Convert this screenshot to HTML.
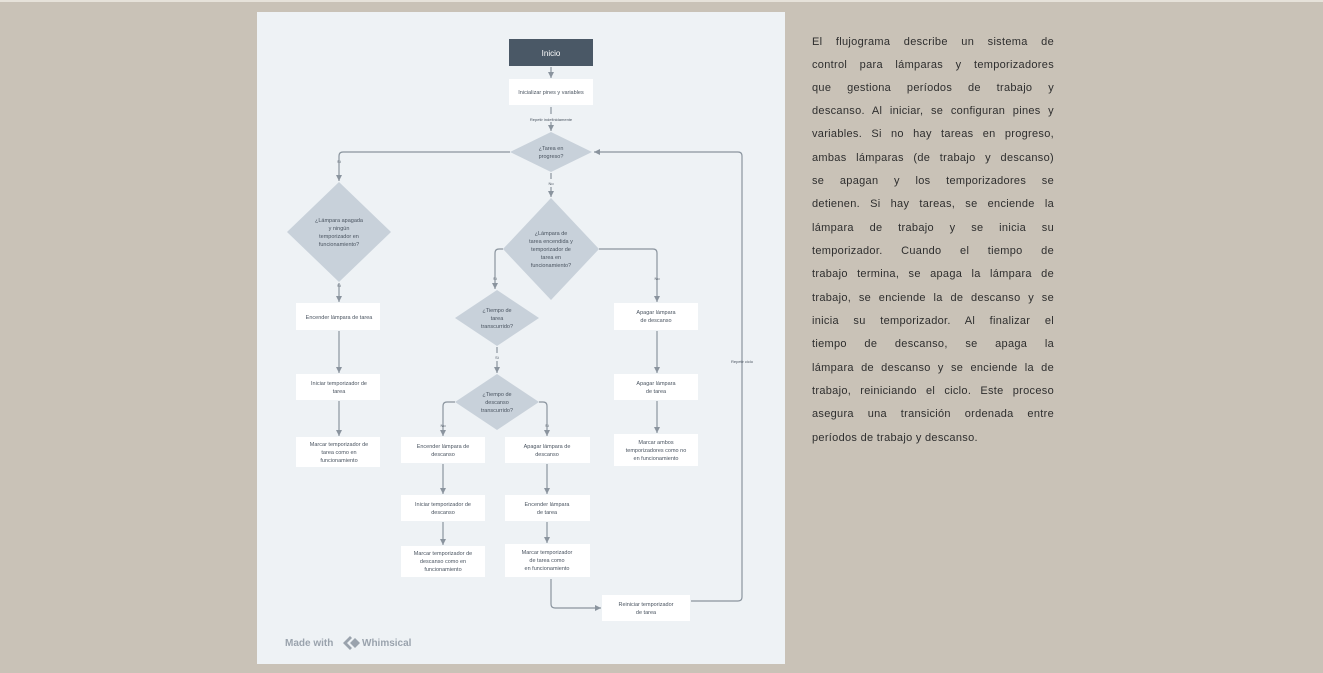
<!DOCTYPE html>
<html><head><meta charset="utf-8"><style>
body{margin:0;width:1323px;height:673px;background:#c9c2b7;position:relative;overflow:hidden;font-family:"Liberation Sans",sans-serif}
#top{position:absolute;left:0;top:0;width:1323px;height:2px;background:#e6e2da}
#panel{position:absolute;left:257px;top:12px;width:528px;height:652px;background:#eef2f5}
svg{position:absolute;left:0;top:0}
.t{position:absolute;left:812px;width:242px;font-size:11px;letter-spacing:0.3px;color:#2e2e2e;text-align:justify;text-align-last:justify;white-space:nowrap;line-height:14px}
.t.l{text-align-last:left}
</style></head><body>
<div id="top"></div>
<div id="panel"></div>
<svg width="1323" height="673" viewBox="0 0 1323 673" font-family="Liberation Sans, sans-serif">
<defs><marker id="a" markerWidth="6" markerHeight="6" refX="5" refY="3" orient="auto"><path d="M0,0.5 L5,3 L0,5.5z" fill="#8a949e"/></marker></defs>
<g stroke="#8a949e" stroke-width="1.2" fill="none" marker-end="url(#a)">
<path d="M551,67 V78"/>
<path d="M551,107 V114 M551,122 V131"/>
<path d="M510,152 H343 Q339,152 339,156 V181"/>
<path d="M339,283 V302"/>
<path d="M339,331 V373"/>
<path d="M339,401 V436"/>
<path d="M551,173 V179 M551,187 V197"/>
<path d="M503,249 H499 Q495,249 495,253 V289"/>
<path d="M599,249 H653 Q657,249 657,253 V302"/>
<path d="M657,331 V373"/>
<path d="M657,401 V433"/>
<path d="M497,347 V353 M497,361 V373"/>
<path d="M455,402 H447 Q443,402 443,406 V436"/>
<path d="M539,402 H543 Q547,402 547,406 V436"/>
<path d="M443,464 V494"/>
<path d="M547,464 V494"/>
<path d="M443,522 V545"/>
<path d="M547,522 V543"/>
<path d="M551,579 V604 Q551,608 555,608 H601"/>
<path d="M691,601 H738 Q742,601 742,597 V156 Q742,152 738,152 H594"/>
</g>
<rect x="509" y="39" width="84" height="27" fill="#4a5866"/>
<text x="551" y="56" fill="#fff" font-size="8" text-anchor="middle">Inicio</text>
<g fill="#fff">
<rect x="509" y="79" width="84" height="26"/>
<rect x="296" y="303" width="84" height="27"/>
<rect x="296" y="374" width="84" height="26"/>
<rect x="296" y="437" width="84" height="30"/>
<rect x="614" y="303" width="84" height="27"/>
<rect x="614" y="374" width="84" height="26"/>
<rect x="614" y="434" width="84" height="32"/>
<rect x="401" y="437" width="84" height="26"/>
<rect x="505" y="437" width="85" height="26"/>
<rect x="401" y="495" width="84" height="26"/>
<rect x="505" y="495" width="85" height="26"/>
<rect x="401" y="546" width="84" height="31"/>
<rect x="505" y="544" width="85" height="33"/>
<rect x="602" y="595" width="88" height="26"/>
</g>
<g fill="#c8d1da">
<path d="M551,132 L592,152 L551,172 L510,152z"/>
<path d="M339,182 L391,232 L339,282 L287,232z"/>
<path d="M551,198 L599,249 L551,300 L503,249z"/>
<path d="M497,290 L539,318 L497,346 L455,318z"/>
<path d="M497,374 L539,402 L497,430 L455,402z"/>
</g>
<g fill="#4a5460" font-size="5.5" text-anchor="middle">
<text x="551" y="94">Inicializar pines y variables</text>
<text x="551" y="121" font-size="4">Repetir indefinidamente</text>
<text x="551" y="150">¿Tarea en</text><text x="551" y="158">progreso?</text>
<text x="339" y="163" font-size="4">Sí</text>
<text x="339" y="222">¿Lámpara apagada</text><text x="339" y="230">y ningún</text><text x="339" y="238">temporizador en</text><text x="339" y="246">funcionamiento?</text>
<text x="339" y="287" font-size="4">Sí</text>
<text x="339" y="319">Encender lámpara de tarea</text>
<text x="339" y="385">Iniciar temporizador de</text><text x="339" y="393">tarea</text>
<text x="339" y="446">Marcar temporizador de</text><text x="339" y="454">tarea como en</text><text x="339" y="462">funcionamiento</text>
<text x="551" y="185" font-size="4">No</text>
<text x="551" y="235">¿Lámpara de</text><text x="551" y="243">tarea encendida y</text><text x="551" y="251">temporizador de</text><text x="551" y="259">tarea en</text><text x="551" y="267">funcionamiento?</text>
<text x="495" y="280" font-size="4">Sí</text>
<text x="657" y="280" font-size="4">No</text>
<text x="497" y="312">¿Tiempo de</text><text x="497" y="320">tarea</text><text x="497" y="328">transcurrido?</text>
<text x="656" y="314">Apagar lámpara</text><text x="656" y="322">de descanso</text>
<text x="497" y="359" font-size="4">Sí</text>
<text x="656" y="385">Apagar lámpara</text><text x="656" y="393">de tarea</text>
<text x="497" y="396">¿Tiempo de</text><text x="497" y="404">descanso</text><text x="497" y="412">transcurrido?</text>
<text x="443" y="427" font-size="4">No</text>
<text x="547" y="427" font-size="4">Sí</text>
<text x="656" y="444">Marcar ambos</text><text x="656" y="452">temporizadores como no</text><text x="656" y="460">en funcionamiento</text>
<text x="443" y="448">Encender lámpara de</text><text x="443" y="456">descanso</text>
<text x="547" y="448">Apagar lámpara de</text><text x="547" y="456">descanso</text>
<text x="443" y="506">Iniciar temporizador de</text><text x="443" y="514">descanso</text>
<text x="547" y="506">Encender lámpara</text><text x="547" y="514">de tarea</text>
<text x="443" y="555">Marcar temporizador de</text><text x="443" y="563">descanso como en</text><text x="443" y="571">funcionamiento</text>
<text x="547" y="554">Marcar temporizador</text><text x="547" y="562">de tarea como</text><text x="547" y="570">en funcionamiento</text>
<text x="646" y="606">Reiniciar temporizador</text><text x="646" y="614">de tarea</text>
<text x="742" y="363" font-size="4">Repetir ciclo</text>
</g>
<text x="285" y="646" font-size="10" font-weight="bold" fill="#9aa3ad">Made with</text>
<path d="M343,643 L350,636 L352,638 L347,643 L352,648 L350,650z" fill="#9aa3ad"/>
<path d="M350,643 L355,638 L360,643 L355,648z" fill="#9aa3ad"/>
<text x="362" y="646" font-size="10" font-weight="bold" fill="#9aa3ad">Whimsical</text>
</svg>
<div class="t" style="top:35px">El flujograma describe un sistema de</div>
<div class="t" style="top:58px">control para lámparas y temporizadores</div>
<div class="t" style="top:81px">que gestiona períodos de trabajo y</div>
<div class="t" style="top:104px">descanso. Al iniciar, se configuran pines y</div>
<div class="t" style="top:127px">variables. Si no hay tareas en progreso,</div>
<div class="t" style="top:151px">ambas lámparas (de trabajo y descanso)</div>
<div class="t" style="top:174px">se apagan y los temporizadores se</div>
<div class="t" style="top:197px">detienen. Si hay tareas, se enciende la</div>
<div class="t" style="top:221px">lámpara de trabajo y se inicia su</div>
<div class="t" style="top:244px">temporizador. Cuando el tiempo de</div>
<div class="t" style="top:267px">trabajo termina, se apaga la lámpara de</div>
<div class="t" style="top:291px">trabajo, se enciende la de descanso y se</div>
<div class="t" style="top:314px">inicia su temporizador. Al finalizar el</div>
<div class="t" style="top:337px">tiempo de descanso, se apaga la</div>
<div class="t" style="top:361px">lámpara de descanso y se enciende la de</div>
<div class="t" style="top:384px">trabajo, reiniciando el ciclo. Este proceso</div>
<div class="t" style="top:407px">asegura una transición ordenada entre</div>
<div class="t l" style="top:431px">períodos de trabajo y descanso.</div>
</body></html>
